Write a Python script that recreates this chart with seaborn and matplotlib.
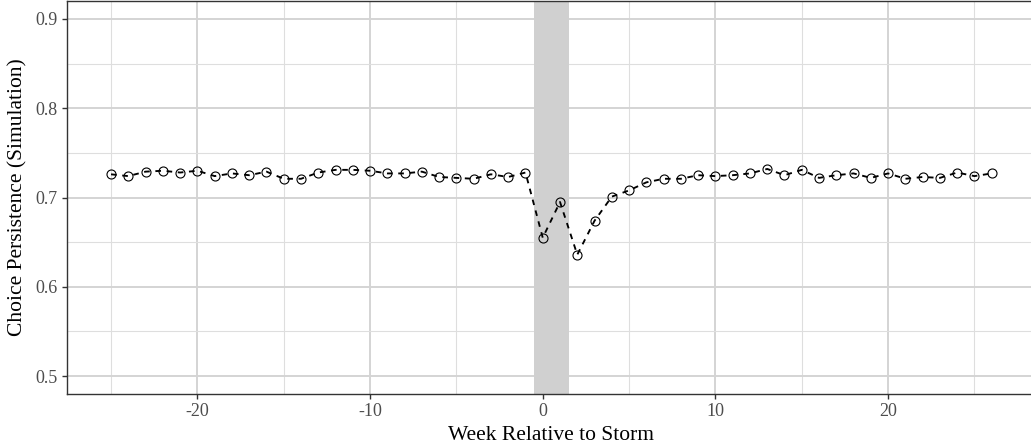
import numpy as np
import pandas as pd
import matplotlib
matplotlib.use("Agg")
import matplotlib.pyplot as plt
import seaborn as sns

# Weekly values
weeks = list(range(-25, 27))
persistence = [
    0.726, 0.724, 0.729, 0.730, 0.728, 0.730, 0.724, 0.727, 0.725, 0.729,  # -25..-16
    0.721, 0.721, 0.728, 0.731, 0.731, 0.730, 0.727, 0.727, 0.729, 0.723,  # -15..-6
    0.722, 0.721, 0.726, 0.723, 0.728,                                     # -5..-1
    0.655, 0.695, 0.636, 0.674, 0.701, 0.708, 0.717, 0.721, 0.721, 0.725,  # 0..9
    0.724, 0.725, 0.727, 0.732, 0.725, 0.731, 0.722, 0.725, 0.727, 0.722,  # 10..19
    0.727, 0.721, 0.723, 0.722, 0.728, 0.724, 0.727,                       # 20..26
]
storm_start, storm_end = -0.5, 1.5

df = pd.DataFrame({"week": weeks, "persistence": persistence})

sns.set_theme(style="whitegrid")
plt.rcParams["font.family"] = ["Liberation Serif", "DejaVu Serif"]
plt.rcParams["axes.unicode_minus"] = False

fig = plt.figure(figsize=(10.31, 4.46), dpi=100)
ax = fig.add_axes([0.065, 0.1166, 0.9396, 0.881])

# shaded storm window
ax.axvspan(storm_start, storm_end, color="#d0d0d0", lw=0, zorder=1)

sns.lineplot(data=df, x="week", y="persistence", ax=ax, color="black",
             linewidth=1.35, linestyle=(0, (3.0, 3.0)), marker="o",
             markersize=6.5, markerfacecolor="none", markeredgecolor="black",
             markeredgewidth=0.8, zorder=3)

ax.set_xlim(-27.55, 28.55)
ax.set_ylim(0.48, 0.92)
ax.set_xticks([-20, -10, 0, 10, 20])
ax.set_xticks([-25, -15, -5, 5, 15, 25], minor=True)
ax.set_yticks([0.5, 0.6, 0.7, 0.8, 0.9])
ax.set_yticks([0.55, 0.65, 0.75, 0.85], minor=True)
ax.set_yticklabels(["0.5", "0.6", "0.7", "0.8", "0.9"])

ax.grid(which="major", color="#d4d4d4", linewidth=1.4)
ax.grid(which="minor", color="#dedede", linewidth=0.8)
ax.set_axisbelow(True)

for s in ax.spines.values():
    s.set_color("#333333")
    s.set_linewidth(1.0)

ax.tick_params(axis="both", which="major", length=3.5, width=1.0, color="#333333",
               labelsize=13, labelcolor="#4d4d4d", pad=3, bottom=True, left=True)
ax.tick_params(axis="both", which="minor", length=0)

ax.set_xlabel("Week Relative to Storm", fontsize=15.5, color="black", labelpad=4)
ax.set_ylabel("Choice Persistence (Simulation)", fontsize=15.5, color="black", labelpad=6)

fig.savefig("out.png", dpi=100)
